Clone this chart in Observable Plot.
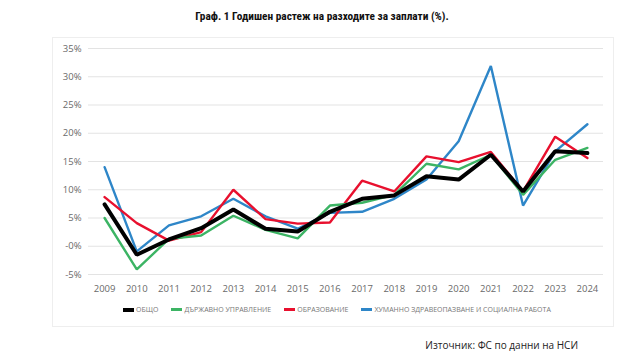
<!DOCTYPE html>
<html><head><meta charset="utf-8">
<script src="https://cdn.jsdelivr.net/npm/d3@7"></script>
<script src="https://cdn.jsdelivr.net/npm/@observablehq/plot@0.6"></script>
<style>
body{margin:0;background:#fff;}
#wrap{position:relative;width:640px;height:364px;overflow:hidden;font-family:"Open Sans","Noto Sans",sans-serif;}
#title{position:absolute;top:10px;left:0;width:644px;text-align:center;font:bold 11.3px "Liberation Sans Narrow","Roboto Condensed","Roboto",sans-serif;color:#111;}
#box{position:absolute;left:52px;top:37px;width:562px;height:290px;border:1px solid #eeeeee;box-sizing:border-box;}
#chart{position:absolute;left:0;top:0;}
#legend{position:absolute;top:305px;left:123px;display:flex;align-items:center;font:7px "Open Sans",sans-serif;color:#777;white-space:nowrap;}
#legend .it{display:flex;align-items:center;margin-right:13px;}
#legend .sw{width:11px;height:3px;margin-right:2px;}
#source{position:absolute;top:338px;right:62px;font:10px "Open Sans",sans-serif;color:#222;}
</style></head>
<body><div id="wrap">
<div id="title">Граф. 1 Годишен растеж на разходите за заплати (%).</div>
<div id="box"></div>
<div id="chart"></div>
<div id="legend"></div>
<div id="source">Източник: ФС по данни на НСИ</div>
</div>
<script>
const years = [2009,2010,2011,2012,2013,2014,2015,2016,2017,2018,2019,2020,2021,2022,2023,2024];
const seriesNames = ["ОБЩО","ДЪРЖАВНО УПРАВЛЕНИЕ","ОБРАЗОВАНИЕ","ХУМАННО ЗДРАВЕОПАЗВАНЕ И СОЦИАЛНА РАБОТА"];
const total  = [7.4,-1.5,1.2,3.2,6.5,3.1,2.6,6.1,8.4,9.0,12.4,11.8,16.2,9.7,16.8,16.5];
const gov    = [5.0,-4.1,1.3,1.9,5.4,2.9,1.4,7.2,7.7,9.1,14.6,13.6,16.2,9.1,15.3,17.4];
const edu    = [8.7,4.1,1.0,2.5,10.0,4.8,4.0,4.2,11.6,9.7,15.9,14.9,16.7,9.7,19.4,15.6];
const health = [14.0,-0.9,3.7,5.3,8.4,5.3,3.1,5.9,6.1,8.4,11.8,18.6,31.9,7.2,16.8,21.6];
const yTicks = [-5,0,5,10,15,20,25,30,35];
const colors = ["#000000","#3cb464","#e8102e","#2e86c8"];
const widths = [4,2.4,2.4,2.4];

const allSeries = [total,gov,edu,health];
const data = [];
allSeries.forEach((vals,si)=>vals.forEach((v,i)=>data.push({year:years[i],value:v,s:seriesNames[si]})));

const drawOrder = [3,2,1,0];
const chart = Plot.plot({
  width:640,height:300,
  marginLeft:88,marginRight:37,marginTop:48,marginBottom:26,
  x:{domain:[2008.5,2024.5],axis:null},
  y:{domain:[-5,35],axis:null},
  marks:[
    Plot.ruleY(yTicks,{stroke:"#e3e3e3",strokeWidth:1.2}),
    Plot.text(yTicks,{x:2008.5,y:d=>d,text:d=>(d===0?"-0":d)+"%",textAnchor:"end",dx:-7,fill:"#6a6a6a",fontSize:9.5}),
    Plot.text(years,{x:d=>d,y:-5,text:d=>String(d),dy:14,fill:"#6a6a6a",fontSize:9.5}),
    ...drawOrder.map(si=>Plot.line(data.filter(d=>d.s===seriesNames[si]),{x:"year",y:"value",stroke:colors[si],strokeWidth:widths[si],strokeLinejoin:"miter"}))
  ],
  style:{fontFamily:"'Open Sans',sans-serif",background:"transparent"}
});
document.getElementById("chart").appendChild(chart);

const leg = document.getElementById("legend");
seriesNames.forEach((n,i)=>{
  const it=document.createElement("div");it.className="it";
  const sw=document.createElement("div");sw.className="sw";sw.style.background=colors[i];sw.style.height=(i===0?4:3)+"px";
  const t=document.createElement("span");t.textContent=n;
  it.appendChild(sw);it.appendChild(t);leg.appendChild(it);
});
</script>
</body></html>
